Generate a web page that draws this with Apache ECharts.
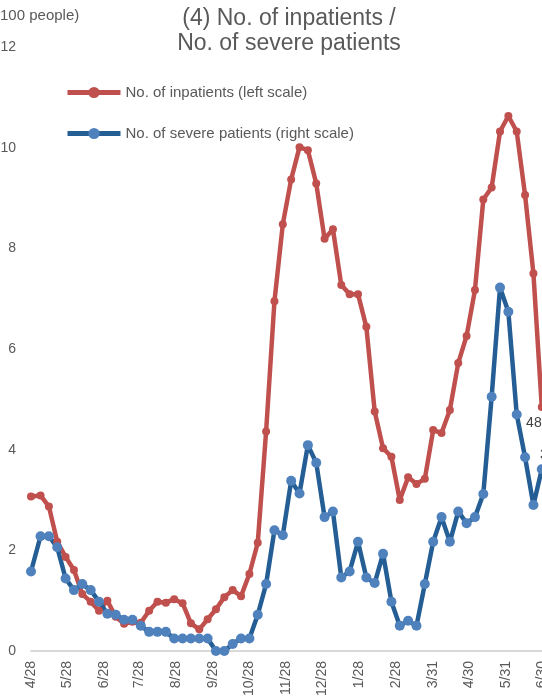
<!DOCTYPE html>
<html>
<head>
<meta charset="utf-8">
<script src="https://cdn.jsdelivr.net/npm/echarts@6/dist/echarts.min.js"></script>
<style>
html,body{margin:0;padding:0;background:#fff;}
#chart{width:542px;height:700px;}
</style>
</head>
<body>
<div id="chart"></div>
<script>
// Weekly reporting dates
const dates = [
  '2020-04-28','2020-05-06','2020-05-13','2020-05-20','2020-05-27','2020-06-03','2020-06-10','2020-06-17','2020-06-24',
  '2020-07-01','2020-07-08','2020-07-15','2020-07-22','2020-07-29','2020-08-05','2020-08-12','2020-08-19','2020-08-26',
  '2020-09-02','2020-09-09','2020-09-16','2020-09-23','2020-09-30','2020-10-07','2020-10-14','2020-10-21','2020-10-28',
  '2020-11-04','2020-11-11','2020-11-18','2020-11-25','2020-12-02','2020-12-09','2020-12-16','2020-12-23','2020-12-30',
  '2021-01-06','2021-01-13','2021-01-20','2021-01-27','2021-02-03','2021-02-10','2021-02-17','2021-02-24',
  '2021-03-03','2021-03-10','2021-03-17','2021-03-24','2021-03-31','2021-04-07','2021-04-14','2021-04-21','2021-04-28',
  '2021-05-05','2021-05-12','2021-05-19','2021-05-26','2021-06-02','2021-06-09','2021-06-16','2021-06-23','2021-06-30'
];
// No. of inpatients (hundreds, left scale)
const inpatients = [
  3.07, 3.09, 2.87, 2.17, 1.87, 1.61, 1.13, 0.98, 0.80, 1.00, 0.68, 0.54, 0.58, 0.56,
  0.80, 0.98, 0.96, 1.03, 0.95, 0.55, 0.43, 0.63, 0.83, 1.07, 1.21, 1.09, 1.53, 2.15,
  4.36, 6.95, 8.48, 9.37, 10.01, 9.95, 9.29, 8.19, 8.38, 7.27, 7.09, 7.09, 6.44, 4.76,
  4.03, 3.86, 3.00, 3.45, 3.32, 3.42, 4.39, 4.33, 4.79, 5.72, 6.26, 7.17, 8.97, 9.21,
  10.32, 10.63, 10.32, 9.06, 7.50, 4.85
];
// No. of severe patients (tens, right scale)
const severe = [
  1.58, 2.28, 2.28, 2.06, 1.44, 1.21, 1.33, 1.21, 0.98, 0.74, 0.72, 0.62, 0.62, 0.50,
  0.38, 0.38, 0.38, 0.25, 0.25, 0.25, 0.25, 0.25, 0.00, 0.00, 0.14, 0.25, 0.25, 0.72,
  1.33, 2.40, 2.30, 3.38, 3.13, 4.09, 3.74, 2.66, 2.77, 1.46, 1.58, 2.17, 1.46, 1.35,
  1.93, 0.98, 0.50, 0.60, 0.50, 1.33, 2.17, 2.66, 2.17, 2.77, 2.54, 2.66, 3.12, 5.05,
  7.22, 6.74, 4.70, 3.85, 2.90, 3.61
];
// X tick label dates
const tickDates = [
  '2020-04-28','2020-05-28','2020-06-28','2020-07-28','2020-08-28','2020-09-28','2020-10-28',
  '2020-11-28','2020-12-28','2021-01-28','2021-02-28','2021-03-31','2021-04-30','2021-05-31','2021-06-30'
];
const yTicks = [0, 2, 4, 6, 8, 10, 12];
const seriesNames = ['No. of inpatients (left scale)', 'No. of severe patients (right scale)'];
const titleText = '(4) No. of inpatients /\nNo. of severe patients';
const unitText = '100 people)';

const FONT = '"Liberation Sans", Arial, sans-serif';
const TXT = '#595959';

function ts(s) { const p = s.split('-').map(Number); return Date.UTC(p[0], p[1] - 1, p[2]); }
function fmtDate(v) { const d = new Date(v); return (d.getUTCMonth() + 1) + '/' + d.getUTCDate(); }

function buildData(vals, labelCfg) {
  return vals.map((v, i) => {
    const item = { value: [ts(dates[i]), v] };
    if (i === vals.length - 1) item.label = labelCfg;
    return item;
  });
}

const chart = echarts.init(document.getElementById('chart'), null, { renderer: 'canvas' });
chart.setOption({
  animation: false,
  textStyle: { fontFamily: FONT },
  graphic: [
    { type: 'text', x: 289, y: 31.5,
      style: { text: titleText, fontFamily: FONT, fontSize: 23, lineHeight: 25, fill: TXT,
               align: 'center', verticalAlign: 'middle' } },
    { type: 'text', x: 0, y: 16,
      style: { text: unitText, fontFamily: FONT, fontSize: 15, fill: TXT,
               align: 'left', verticalAlign: 'middle' } }
  ],
  legend: {
    orient: 'vertical', left: 65, top: 85, padding: 0, itemWidth: 53, itemHeight: 14, itemGap: 26,
    textStyle: { fontFamily: FONT, fontSize: 15, color: TXT },
    lineStyle: { width: 5 },
    data: seriesNames
  },
  grid: { left: 31, right: -14.1, top: 47, bottom: 49, containLabel: false, outerBoundsMode: 'none' },
  xAxis: {
    type: 'value',
    min: ts('2020-04-28'), max: ts('2021-07-12'),
    splitLine: { show: false },
    axisTick: { show: false },
    axisLine: { show: true, onZero: false, lineStyle: { color: '#D9D9D9', width: 2 } },
    axisLabel: {
      customValues: tickDates.map(ts),
      rotate: 90, margin: 10, fontSize: 14, color: TXT, fontFamily: FONT, hideOverlap: false,
      showMinLabel: true, showMaxLabel: true,
      formatter: function (val) { return fmtDate(val); }
    }
  },
  yAxis: [
    {
      type: 'value', min: yTicks[0], max: yTicks[yTicks.length - 1], interval: 2,
      splitLine: { show: false }, axisLine: { show: false }, axisTick: { show: false },
      axisLabel: { margin: 15, fontSize: 14, color: TXT, fontFamily: FONT }
    },
    { type: 'value', min: 0, max: 12, show: false }
  ],
  series: [
    {
      name: seriesNames[0], type: 'line', yAxisIndex: 0,
      data: buildData(inpatients, { show: true, position: 'bottom', offset: [-4, 0], fontSize: 14, color: '#404040',
        formatter: p => String(Math.round(p.value[1] * 100)) }),
      showAllSymbol: true, symbol: 'circle', symbolSize: 8,
      lineStyle: { color: '#C0504D', width: 4.5, join: 'round' },
      itemStyle: { color: '#C0504D' }
    },
    {
      name: seriesNames[1], type: 'line', yAxisIndex: 1,
      data: buildData(severe, { show: true, position: 'top', offset: [6, 3], fontSize: 14, color: '#404040',
        formatter: p => String(Math.round(p.value[1] * 10)) }),
      showAllSymbol: true, symbol: 'circle', symbolSize: 10,
      lineStyle: { color: '#245E94', width: 4.5, join: 'round' },
      itemStyle: { color: '#4F81BD' }
    }
  ]
});
</script>
</body>
</html>
